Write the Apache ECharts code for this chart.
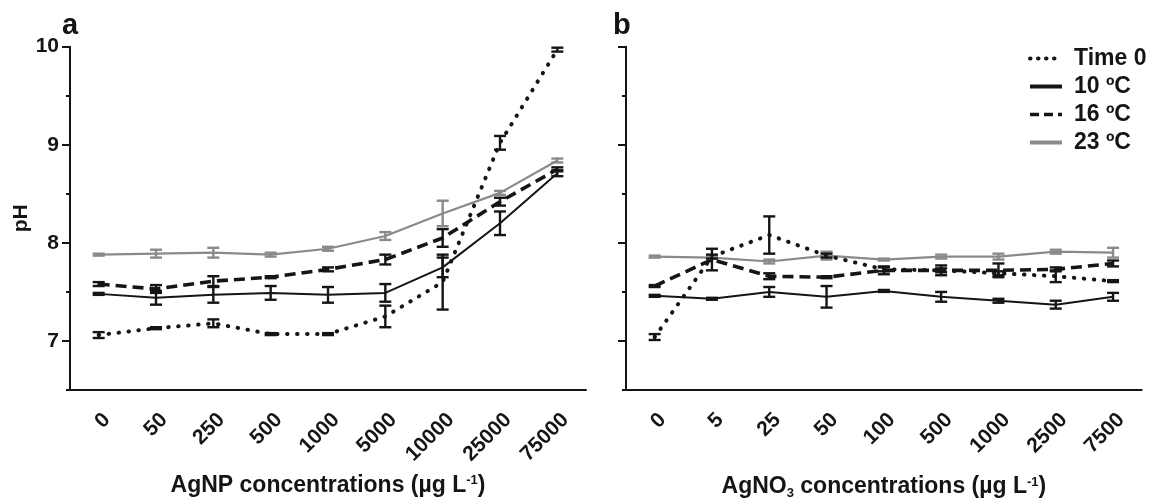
<!DOCTYPE html>
<html>
<head>
<meta charset="utf-8">
<title>pH vs silver concentration</title>
<script src="https://cdn.jsdelivr.net/npm/echarts@6/dist/echarts.min.js"></script>
<style>
  html, body { margin: 0; padding: 0; background: #fff; }
  #chart { width: 1151px; height: 499px; }
</style>
</head>
<body>
<div id="chart"></div>
<script>
// ---- categories (nominal concentrations, µg L-1) ----
const concAgNP = ['0', '50', '250', '500', '1000', '5000', '10000', '25000', '75000'];
const concAgNO3 = ['0', '5', '25', '50', '100', '500', '1000', '2500', '7500'];

// ---- panel a: AgNP, mean pH and SD ----
const time0A = [7.06, 7.13, 7.18, 7.07, 7.07, 7.25, 7.60, 9.02, 9.97];
const time0A_sd = [0.03, 0.01, 0.04, 0.01, 0.01, 0.11, 0.28, 0.07, 0.02];
const t10A = [7.48, 7.44, 7.47, 7.49, 7.47, 7.49, 7.75, 8.20, 8.71];
const t10A_sd = [0.01, 0.07, 0.08, 0.07, 0.08, 0.09, 0.10, 0.12, 0.03];
const t16A = [7.58, 7.53, 7.61, 7.65, 7.73, 7.83, 8.05, 8.42, 8.75];
const t16A_sd = [0.02, 0.04, 0.05, 0.01, 0.02, 0.05, 0.09, 0.04, 0.02];
const t23A = [7.88, 7.89, 7.90, 7.88, 7.94, 8.07, 8.30, 8.51, 8.84];
const t23A_sd = [0.01, 0.04, 0.05, 0.02, 0.02, 0.04, 0.13, 0.02, 0.02];

// ---- panel b: AgNO3, mean pH and SD ----
const time0B = [7.04, 7.86, 8.08, 7.87, 7.73, 7.72, 7.69, 7.66, 7.61];
const time0B_sd = [0.03, 0.02, 0.19, 0.02, 0.02, 0.02, 0.02, 0.06, 0.01];
const t10B = [7.46, 7.43, 7.50, 7.45, 7.51, 7.45, 7.41, 7.37, 7.45];
const t10B_sd = [0.01, 0.01, 0.05, 0.11, 0.01, 0.05, 0.02, 0.04, 0.04];
const t16B = [7.56, 7.83, 7.66, 7.65, 7.72, 7.72, 7.72, 7.73, 7.79];
const t16B_sd = [0.01, 0.11, 0.03, 0.01, 0.04, 0.05, 0.07, 0.02, 0.03];
const t23B = [7.86, 7.85, 7.81, 7.87, 7.83, 7.86, 7.86, 7.91, 7.90];
const t23B_sd = [0.01, 0.01, 0.02, 0.04, 0.01, 0.02, 0.03, 0.02, 0.05];

// ---- axis ticks ----
const pHLabels = [7, 8, 9, 10];
const seriesNames = ['Time 0', '10 ºC', '16 ºC', '23 ºC'];

const FONT = 'Liberation Sans, Arial, Helvetica, sans-serif';
const INK = '#151515';
const GREY = '#8a8a8a';

const lineStyles = {
  'Time 0': { color: INK, width: 4, type: [0.5, 9.5], cap: 'round' },
  '10 ºC': { color: INK, width: 2, type: 'solid' },
  '16 ºC': { color: INK, width: 3.6, type: [11, 6] },
  '23 ºC': { color: GREY, width: 2.2, type: 'solid' }
};

// heavier strokes for the key
const legendLineStyles = {
  'Time 0': { color: INK, width: 4, type: [0.5, 7.5], cap: 'round' },
  '10 ºC': { color: INK, width: 4, type: 'solid' },
  '16 ºC': { color: INK, width: 3.6, type: [9, 5] },
  '23 ºC': { color: GREY, width: 4, type: 'solid' }
};

const grids = [
  { left: 70, top: 46.7, width: 516, height: 343.3, outerBoundsMode: 'none' },
  { left: 626, top: 46.7, width: 515.7, height: 343.3, outerBoundsMode: 'none' }
];

function xAxisFor(gridIndex, cats, nameRich) {
  return {
    type: 'category',
    gridIndex,
    data: cats,
    boundaryGap: true,
    axisLine: { lineStyle: { color: INK, width: 2 } },
    axisTick: { alignWithLabel: true, length: 9, lineStyle: { color: INK, width: 2 } },
    axisLabel: {
      rotate: 45, interval: 0, margin: 20,
      verticalAlign: 'top',
      padding: [0, -1, 0, 0],
      fontFamily: FONT, fontWeight: 'bold', fontSize: 21, color: INK
    },
    name: nameRich,
    nameLocation: 'middle',
    nameGap: 84,
    nameTextStyle: {
      fontFamily: FONT, fontWeight: 'bold', fontSize: 23, color: INK,
      rich: {
        sup: { fontFamily: FONT, fontWeight: 'bold', fontSize: 13, color: INK,
               verticalAlign: 'bottom', padding: [0, 0, 11, 0] },
        sub: { fontFamily: FONT, fontWeight: 'bold', fontSize: 13, color: INK,
               verticalAlign: 'top', padding: [13, 0, 0, 0] }
      }
    },
    splitLine: { show: false }
  };
}

function yAxesFor(gridIndex, showLabels) {
  const base = {
    type: 'value', gridIndex, min: 6.5, max: 10, position: 'left', offset: 0,
    splitLine: { show: false }
  };
  return [
    Object.assign({}, base, {
      interval: 0.5,
      axisLine: { show: true, lineStyle: { color: INK, width: 2 } },
      axisTick: { show: true, length: 4, lineStyle: { color: INK, width: 2 } },
      axisLabel: {
        show: showLabels, margin: 11,
        fontFamily: FONT, fontWeight: 'bold', fontSize: 21, color: INK,
        formatter: v => (Number.isInteger(v) ? String(v) : '')
      },
      name: showLabels ? 'pH' : '',
      nameLocation: 'middle',
      nameGap: 33,
      nameTextStyle: { fontFamily: FONT, fontWeight: 'bold', fontSize: 21, color: INK }
    }),
    Object.assign({}, base, {
      axisLine: { show: false },
      axisTick: { show: true, length: 8, customValues: pHLabels,
                  lineStyle: { color: INK, width: 2 } },
      axisLabel: { show: false }
    })
  ];
}

// SD bars drawn in pixel space from the axis scales
function errorBarRenderer(color) {
  return function (params, api) {
    const i = api.value(0);
    const lo = api.coord([i, api.value(1)]);
    const hi = api.coord([i, api.value(2)]);
    const hw = 6;
    const style = { stroke: color, lineWidth: 2.4 };
    return {
      type: 'group',
      children: [
        { type: 'line', shape: { x1: lo[0], y1: lo[1], x2: hi[0], y2: hi[1] }, style },
        { type: 'line', shape: { x1: lo[0] - hw, y1: lo[1], x2: lo[0] + hw, y2: lo[1] }, style },
        { type: 'line', shape: { x1: hi[0] - hw, y1: hi[1], x2: hi[0] + hw, y2: hi[1] }, style }
      ]
    };
  };
}

function panelSeries(axisIdx, yIdx, groups) {
  const out = [];
  groups.forEach(([name, means, sds]) => {
    const ls = lineStyles[name];
    out.push({
      type: 'custom',
      name: name + ' SD',
      xAxisIndex: axisIdx, yAxisIndex: yIdx,
      renderItem: errorBarRenderer(ls.color),
      data: means.map((m, i) => [i, m - sds[i], m + sds[i]]),
      z: 3,
      silent: true
    });
    out.push({
      type: 'line',
      name,
      xAxisIndex: axisIdx, yAxisIndex: yIdx,
      data: means,
      symbol: 'none',
      showSymbol: false,
      lineStyle: { color: ls.color, width: ls.width, type: ls.type, cap: ls.cap || 'butt' },
      itemStyle: { color: ls.color },
      z: 2
    });
  });
  return out;
}

const chart = echarts.init(document.getElementById('chart'), null, { renderer: 'canvas' });

const option = {
  animation: false,
  backgroundColor: '#fff',
  title: [
    { text: 'a', left: 57, top: 6, textStyle: { fontFamily: FONT, fontWeight: 'bold', fontSize: 29, color: INK } },
    { text: 'b', left: 608, top: 6, textStyle: { fontFamily: FONT, fontWeight: 'bold', fontSize: 29, color: INK } }
  ],
  legend: {
    data: seriesNames.map(n => ({
      name: n,
      itemStyle: { opacity: 0 },
      lineStyle: legendLineStyles[n]
    })),
    orient: 'vertical',
    left: 1023,
    top: 42,
    itemWidth: 32,
    itemHeight: 14,
    itemGap: 5,
    textStyle: { fontFamily: FONT, fontWeight: 'bold', fontSize: 23, color: INK, padding: [0, 0, 0, 7] },
    selectedMode: false
  },
  grid: grids,
  xAxis: [
    xAxisFor(0, concAgNP, 'AgNP concentrations (µg L{sup|-1})'),
    xAxisFor(1, concAgNO3, 'AgNO{sub|3} concentrations (µg L{sup|-1})')
  ],
  yAxis: [].concat(yAxesFor(0, true), yAxesFor(1, false)),
  series: [].concat(
    panelSeries(0, 0, [
      ['23 ºC', t23A, t23A_sd],
      ['16 ºC', t16A, t16A_sd],
      ['10 ºC', t10A, t10A_sd],
      ['Time 0', time0A, time0A_sd]
    ]),
    panelSeries(1, 2, [
      ['23 ºC', t23B, t23B_sd],
      ['16 ºC', t16B, t16B_sd],
      ['10 ºC', t10B, t10B_sd],
      ['Time 0', time0B, time0B_sd]
    ])
  )
};

chart.setOption(option);
</script>
</body>
</html>
